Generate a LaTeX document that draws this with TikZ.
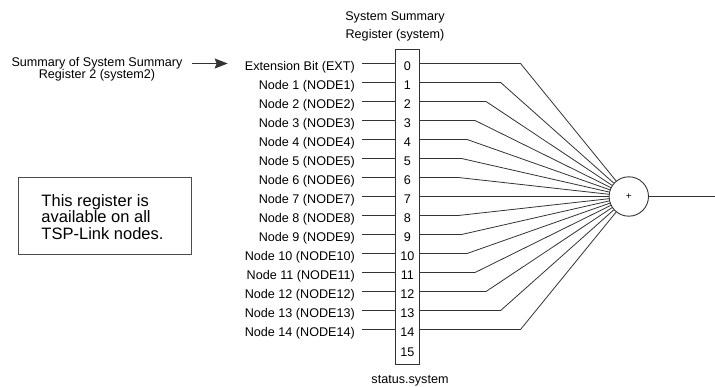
\documentclass[tikz,border=0pt]{standalone}
\usepackage{fontspec}
\setmainfont{Liberation Sans}
\usetikzlibrary{arrows.meta}

\newcommand{\lblsize}{\fontsize{12.6}{14}\selectfont}
\newcommand{\notesize}{\fontsize{16.5}{16.5}\selectfont}

\begin{document}
\begin{tikzpicture}[x=1pt, y=-1pt,
  lbl/.style={font=\lblsize, inner sep=0pt, text height=15pt, text depth=0pt},
  bit/.style={lbl, minimum width=23.3pt},
  wire/.style={draw=black!80, line width=0.8pt}]

\useasboundingbox (0,0) rectangle (715,387);

% Register title
\node[font=\fontsize{12.6}{17.5}\selectfont, align=center, inner sep=0pt, anchor=north]
  (title) at (395,11.7) {System Summary\\Register (system)};

% Register frame
\node[draw=black!80, line width=0.9pt, minimum width=23.3pt, minimum height=315pt,
  inner sep=0pt, anchor=north] (reg) at (407.3,49) {};

% Bits
\foreach \i in {0,...,15}{
  \pgfmathsetmacro\ry{63.5+19*\i}
  \node[bit] (b\i) at (407.3,\ry) {\i};
}

% Summing node
\node[draw=black!80, line width=0.9pt, circle, minimum size=39.4pt, inner sep=0pt,
  font=\fontsize{10}{10}\selectfont] (sum) at (628.8,196.5) {+};

% Inputs and fan-in
\foreach \i in {0,...,14}{
  \pgfmathsetmacro\ry{63.5+19*\i}
  \pgfmathsetmacro\kx{628.8-10*sqrt(17.15^2-(1.9*(\i-7))^2)}
  \node[lbl, anchor=east] (l\i) at (355,\ry)
    {\ifnum\i=0 Extension Bit (EXT)\else Node \i\ (NODE\i)\fi};
  \coordinate (k\i) at (\kx,\ry);
  \draw[wire, shorten <=6.7pt] (l\i) -- (b\i);
  \draw[wire] (b\i.east) -- (k\i) -- (sum);
}

% Output
\coordinate (out) at (715,196.5);
\draw[wire] (sum) -- (out);

% Register name
\node[font=\lblsize, inner sep=0pt, anchor=base] (stat) at (410,384) {status.system};

% Summary of system2
\node[font=\fontsize{12.6}{12}\selectfont, align=center, inner sep=0pt, anchor=north]
  (ext) at (97,57) {Summary of System Summary\\Register 2 (system2)};
\draw[wire, -{Stealth[length=13pt, width=10pt, inset=2pt]}, shorten <=9pt, shorten >=17pt]
  (ext.east |- l0.west) -- (l0.west);

% Note
\node[draw=black!70, line width=0.9pt, minimum width=172.4pt, minimum height=76.7pt,
  inner sep=0pt, anchor=north west] (note) at (18.3,177.3) {};
\node[font=\notesize, align=left, inner sep=0pt, anchor=north west]
  (notetext) at (41.3,194) {This register is\\available on all\\TSP-Link nodes.};

\end{tikzpicture}
\end{document}
